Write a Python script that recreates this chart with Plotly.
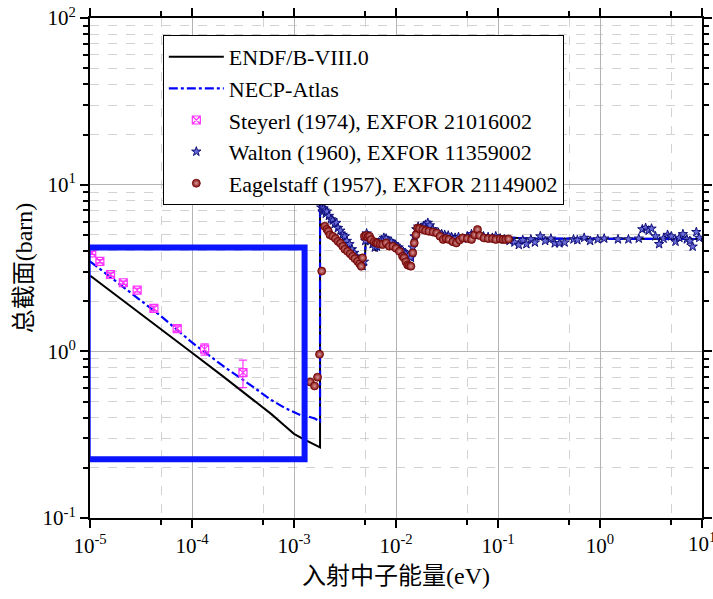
import plotly.graph_objects as go

# ---------------- evaluated cross sections (barn) vs energy (eV) ----------------
endf_e = [1e-5, 2e-5, 5e-5, 1e-4, 2e-4, 4e-4, 6e-4, 8e-4, 1e-3, 1.2e-3, 1.4e-3, 1.6e-3,
          1.8e-3, 1.8e-3,
          2.0e-3, 2.4e-3, 3.0e-3, 3.5e-3, 4.2e-3, 4.7e-3, 4.9e-3, 5.1e-3, 5.6e-3,
          6.4e-3, 7.0e-3, 8.0e-3, 9.5e-3, 1.08e-2, 1.25e-2, 1.40e-2, 1.46e-2,
          1.50e-2, 1.60e-2, 2.12e-2, 2.5e-2, 3.1e-2, 4.2e-2, 6.0e-2, 0.1, 0.2,
          1.0, 10.0]
endf_xs = [2.85, 2.06, 1.34, 0.98, 0.71, 0.51, 0.42, 0.36, 0.32, 0.30, 0.285, 0.273,
           0.265, 7.6,
           7.1, 6.1, 5.0, 4.35, 3.7, 3.25, 3.2, 5.2, 4.7,
           4.0, 4.45, 4.75, 4.5, 4.2, 3.9, 3.6, 3.5,
           5.0, 5.4, 5.7, 5.2, 5.0, 4.85, 5.0, 4.85, 4.75,
           4.72, 4.72]

necp_e = [1e-5, 2e-5, 5e-5, 1e-4, 2e-4, 4e-4, 6e-4, 8e-4, 1e-3, 1.2e-3, 1.4e-3, 1.6e-3,
          1.8e-3, 1.8e-3,
          2.0e-3, 2.4e-3, 3.0e-3, 3.5e-3, 4.2e-3, 4.7e-3, 4.9e-3, 5.1e-3, 5.6e-3,
          6.4e-3, 7.0e-3, 8.0e-3, 9.5e-3, 1.08e-2, 1.25e-2, 1.40e-2, 1.46e-2,
          1.50e-2, 1.60e-2, 2.12e-2, 2.5e-2, 3.1e-2, 4.2e-2, 6.0e-2, 0.1, 0.2,
          1.0, 10.0]
necp_xs = [3.47, 2.5, 1.62, 1.13, 0.82, 0.61, 0.51, 0.46, 0.43, 0.41, 0.405, 0.395,
           0.38, 7.3,
           7.0, 6.0, 4.95, 4.3, 3.65, 3.2, 3.3, 5.1, 4.65,
           4.05, 4.45, 4.75, 4.5, 4.2, 3.9, 3.6, 3.55,
           4.9, 5.4, 5.7, 5.2, 5.0, 4.85, 5.0, 4.85, 4.75,
           4.72, 4.72]

# ---------------- measurements ----------------
steyerl_e = [1.04e-5, 1.25e-5, 1.59e-5, 2.12e-5, 2.90e-5, 4.23e-5, 7.16e-5, 1.33e-4, 3.16e-4]
steyerl_xs = [3.90, 3.47, 2.89, 2.58, 2.33, 1.81, 1.37, 1.03, 0.745]
steyerl_err = [0.08, 0.08, 0.07, 0.06, 0.06, 0.06, 0.05, 0.08, 0.14]

walton_e = [1.85e-3, 1.90e-3, 1.95e-3, 2.00e-3, 2.05e-3, 2.10e-3, 2.20e-3, 2.30e-3,
            2.40e-3, 2.50e-3, 2.60e-3, 2.70e-3, 2.85e-3, 3.00e-3, 3.15e-3, 3.30e-3,
            3.50e-3, 3.70e-3, 3.90e-3, 4.10e-3, 4.30e-3, 4.50e-3, 4.70e-3, 4.85e-3,
            5.00e-3, 5.15e-3, 5.35e-3, 5.60e-3, 5.90e-3, 6.20e-3, 6.50e-3, 6.80e-3,
            7.20e-3, 7.60e-3, 8.00e-3, 8.50e-3, 9.00e-3, 9.50e-3, 1.00e-2, 1.06e-2,
            1.12e-2, 1.18e-2, 1.25e-2, 1.32e-2, 1.40e-2, 1.46e-2, 1.52e-2, 1.58e-2,
            1.65e-2, 1.75e-2, 1.85e-2, 1.95e-2, 2.05e-2, 2.15e-2, 2.30e-2, 2.45e-2,
            2.60e-2, 2.80e-2, 3.00e-2, 3.25e-2, 3.50e-2, 3.80e-2, 4.10e-2, 4.50e-2,
            5.00e-2, 5.50e-2, 6.00e-2, 6.60e-2, 7.20e-2, 8.00e-2, 8.80e-2, 9.50e-2,
            0.105, 0.115, 0.13, 0.145, 0.16, 0.175, 0.19, 0.21, 0.23, 0.26, 0.29,
            0.33, 0.36, 0.40, 0.45, 0.55, 0.60, 0.70, 0.80, 0.95, 1.1, 1.5, 1.9,
            2.4, 2.6, 2.8, 3.0, 3.2, 3.5, 3.8, 4.2, 4.6, 5.0, 5.5, 6.0, 6.5, 7.1,
            7.6, 8.1, 8.8, 9.4]
walton_xs = [7.3, 6.9, 7.2, 7.0, 6.7, 6.9, 6.5, 6.2,
             6.1, 5.8, 5.9, 5.5, 5.3, 5.0, 4.9, 4.6,
             4.4, 4.1, 3.9, 3.7, 3.55, 3.4, 3.25, 3.45,
             4.6, 5.1, 4.9, 4.6, 4.4, 4.2, 4.25, 4.5,
             4.65, 4.8, 4.75, 4.6, 4.55, 4.4, 4.3, 4.2,
             4.05, 3.95, 3.85, 3.75, 3.65, 4.2, 4.9, 5.4,
             5.6, 5.5, 5.6, 5.75, 5.9, 5.7, 5.4, 5.2,
             5.15, 5.05, 5.0, 4.95, 4.85, 4.8, 4.85, 4.75,
             4.9, 5.05, 5.1, 5.0, 4.9, 4.85, 4.8, 4.9,
             4.75, 4.7, 4.6, 4.5, 4.35, 4.65, 4.4, 4.7, 4.5, 4.9, 4.6,
             4.75, 4.45, 4.45, 4.5, 4.7, 4.65, 4.8, 4.6, 4.7, 4.75, 4.7, 4.7,
             4.75, 5.4, 5.5, 5.3, 5.45, 4.9, 4.4, 4.75, 5.0, 4.9, 4.55, 4.8, 5.05, 4.7,
             4.6, 4.25, 5.2, 4.8]

eagel_e = [1.44e-3, 1.59e-3, 1.70e-3, 1.78e-3, 1.87e-3,
           2.00e-3, 2.10e-3, 2.17e-3, 2.25e-3, 2.40e-3, 2.55e-3, 2.70e-3, 2.85e-3,
           3.00e-3, 3.15e-3, 3.35e-3, 3.55e-3, 3.75e-3, 3.95e-3, 4.20e-3, 4.40e-3,
           4.56e-3, 4.70e-3, 4.90e-3, 5.10e-3, 5.30e-3, 5.50e-3, 5.70e-3, 6.10e-3,
           6.40e-3, 6.60e-3, 7.00e-3, 7.40e-3, 8.00e-3, 8.60e-3, 9.30e-3, 1.00e-2,
           1.08e-2, 1.16e-2, 1.20e-2, 1.25e-2, 1.30e-2, 1.35e-2, 1.40e-2, 1.46e-2,
           1.51e-2, 1.57e-2, 1.63e-2, 1.70e-2, 1.83e-2, 1.95e-2, 2.10e-2, 2.30e-2,
           2.50e-2, 2.70e-2, 2.90e-2, 3.10e-2, 3.30e-2, 3.60e-2, 3.90e-2, 4.20e-2,
           4.50e-2, 5.00e-2, 5.50e-2, 5.90e-2, 6.30e-2, 6.60e-2, 7.30e-2, 8.00e-2,
           8.80e-2, 9.50e-2, 0.105, 0.112, 0.119, 0.127]
eagel_xs = [0.655, 0.62, 0.70, 0.96, 3.03,
            5.63, 5.4, 5.25, 5.0, 4.9, 4.75, 4.57, 4.45,
            4.27, 4.1, 3.98, 3.85, 3.72, 3.6, 3.47, 3.35,
            3.24, 3.64, 4.9, 4.95, 4.85, 4.9, 4.69, 4.55,
            4.47, 4.45, 4.4, 4.37, 4.47, 4.27, 4.27, 4.15,
            3.98, 3.72, 3.64, 3.45, 3.3, 3.27, 3.24, 3.9,
            4.47, 5.0, 5.5, 5.45, 5.38, 5.3, 5.25, 5.2,
            5.13, 4.9, 4.69, 4.75, 4.69, 4.55, 4.47, 4.65,
            4.79, 4.75, 4.69, 5.0, 5.38, 4.95, 4.79, 4.75,
            4.75, 4.69, 4.72, 4.69, 4.69, 4.72]

# ---------------- axis ticks ----------------
x_major = [1e-5, 1e-4, 1e-3, 1e-2, 1e-1, 1e0, 1e1]
x_major_text = ["10<sup>-5</sup>", "10<sup>-4</sup>", "10<sup>-3</sup>", "10<sup>-2</sup>",
                "10<sup>-1</sup>", "10<sup>0</sup>", "10<sup>1</sup>"]
x_minor = [5e-5, 5e-4, 5e-3, 5e-2, 5e-1, 5e0]
y_major = [0.1, 1, 10, 100]
y_major_text = ["10<sup>-1</sup>", "10<sup>0</sup>", "10<sup>1</sup>", "10<sup>2</sup>"]
y_minor = [m * d for d in (0.1, 1, 10) for m in range(2, 10)]

# highlighted low-energy region (eV, barn)
box_e = [9.5e-6, 1.27e-3]
box_xs = [0.225, 4.2]

SERIF = "Liberation Serif"
TITLE_FONT = "Liberation Serif, Noto Sans CJK SC"
TICK_SIZE = 21

fig = go.Figure()

fig.add_trace(go.Scatter(x=endf_e, y=endf_xs, mode="lines", name="ENDF/B-VIII.0",
                         line=dict(color="black", width=2)))
fig.add_trace(go.Scatter(x=necp_e, y=necp_xs, mode="lines", name="NECP-Atlas",
                         line=dict(color="#0000ff", width=2.2, dash="dashdot")))
fig.add_trace(go.Scatter(x=steyerl_e, y=steyerl_xs, mode="markers",
                         name="Steyerl (1974), EXFOR 21016002",
                         marker=dict(symbol="square-x-open", size=8, color="#ff33ff",
                                     line=dict(width=1.2)),
                         error_y=dict(type="data", array=steyerl_err, color="#ff33ff",
                                      thickness=1.2, width=4)))
fig.add_trace(go.Scatter(x=walton_e, y=walton_xs, mode="markers",
                         name="Walton (1960), EXFOR 11359002",
                         marker=dict(symbol="star", size=7, color="#6a6ad8",
                                     line=dict(color="#10107a", width=1))))
fig.add_trace(go.Scatter(x=eagel_e, y=eagel_xs, mode="markers",
                         name="Eagelstaff (1957), EXFOR 21149002",
                         marker=dict(symbol="circle", size=8, color="#850d0d",
                                     gradient=dict(type="radial", color="#d99a9a"),
                                     line=dict(color="#700808", width=0.8))))

fig.add_shape(type="rect", xref="x", yref="y",
              x0=box_e[0], x1=box_e[1], y0=box_xs[0], y1=box_xs[1],
              line=dict(color="#0a14ff", width=6), fillcolor="rgba(0,0,0,0)")

# the last decade label sits on the page edge; place it explicitly so it is not dropped
fig.add_annotation(x=1, xref="x", y=0, yref="paper", yanchor="top", yshift=-9,
                   text=x_major_text[-1], showarrow=False,
                   font=dict(family=SERIF, size=TICK_SIZE, color="black"))

axis_common = dict(
    type="log", showline=True, linecolor="black", linewidth=2, mirror="allticks",
    ticks="outside", ticklen=8, tickwidth=2, tickcolor="black",
    showgrid=True, gridcolor="#b4b4b4", gridwidth=1, zeroline=False,
    tickfont=dict(family=SERIF, size=TICK_SIZE, color="black"), automargin=False,
)

fig.update_xaxes(
    **axis_common, range=[-5, 1], tickmode="array", tickvals=x_major,
    ticktext=x_major_text[:-1] + [""],
    minor=dict(tickmode="array", tickvals=x_minor, ticks="outside", ticklen=5,
               tickwidth=1.5, tickcolor="black", showgrid=True, gridcolor="#d2d2d2",
               griddash="dash", gridwidth=1),
    title=dict(text="入射中子能量(eV)", font=dict(family=TITLE_FONT, size=24, color="black"),
               standoff=10),
)
fig.update_yaxes(
    **axis_common, range=[-1, 2], tickmode="array", tickvals=y_major, ticktext=y_major_text,
    minor=dict(tickmode="array", tickvals=y_minor, ticks="outside", ticklen=5, tickwidth=1.5,
               tickcolor="black", showgrid=True, gridcolor="#d2d2d2", griddash="dash",
               gridwidth=1),
    title=dict(text="总截面(barn)", font=dict(family=TITLE_FONT, size=24, color="black"),
               standoff=3),
)

fig.update_layout(
    width=713, height=599,
    margin=dict(l=90, r=11, t=18, b=81),
    paper_bgcolor="white", plot_bgcolor="white",
    showlegend=True,
    legend=dict(x=0.119, y=0.966, xanchor="left", yanchor="top",
                bgcolor="white", bordercolor="black", borderwidth=1,
                font=dict(family=SERIF, size=22, color="black"),
                itemwidth=55, tracegroupgap=0),
)

fig.write_html("out.html")
